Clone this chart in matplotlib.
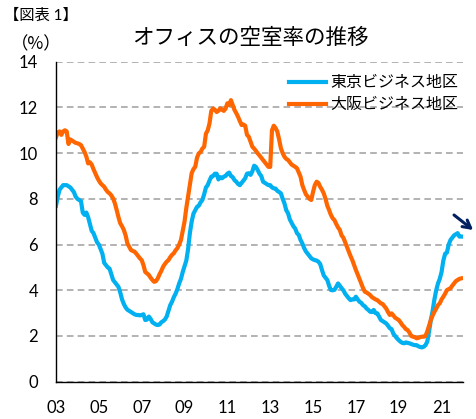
import numpy as np
import matplotlib
matplotlib.use("Agg")
import matplotlib.pyplot as plt

plt.rcParams['font.family'] = ['Lato', 'Noto Sans CJK JP', 'DejaVu Sans']

# monthly vacancy rate (%), Jan 2003 - Dec 2021
tokyo = [
    7.7, 8.1, 8.4, 8.5, 8.6, 8.6, 8.6, 8.55, 8.5, 8.4, 8.3, 8.1,         # 03
    8.0, 7.95, 7.9, 7.4, 7.3, 7.4, 7.2, 6.9, 6.6, 6.5, 6.3, 6.1,         # 04
    6.0, 5.8, 5.6, 5.2, 5.1, 5.0, 4.95, 4.7, 4.45, 4.35, 4.25, 4.15,     # 05
    3.9, 3.6, 3.4, 3.25, 3.15, 3.1, 3.05, 3.0, 2.95, 2.92, 2.92, 2.9,    # 06
    2.92, 2.95, 2.7, 2.72, 2.85, 2.75, 2.6, 2.55, 2.5, 2.48, 2.5, 2.6,   # 07
    2.65, 2.72, 2.85, 3.1, 3.35, 3.5, 3.7, 3.85, 4.05, 4.3, 4.5, 4.8,    # 08
    5.05, 5.3, 5.8, 6.5, 7.0, 7.35, 7.5, 7.65, 7.7, 7.85, 7.95, 8.2,     # 09
    8.5, 8.6, 8.8, 8.97, 9.0, 9.1, 9.1, 8.85, 8.95, 8.9, 8.97, 9.0,      # 10
    9.1, 9.15, 9.0, 8.95, 8.82, 8.75, 8.65, 8.6, 8.7, 8.8, 8.9, 9.1,     # 11
    9.12, 9.05, 9.2, 9.45, 9.4, 9.26, 9.1, 9.0, 8.75, 8.7, 8.65, 8.6,    # 12
    8.6, 8.5, 8.46, 8.45, 8.35, 8.3, 8.24, 8.0, 7.8, 7.5, 7.37, 7.1,     # 13
    6.95, 6.8, 6.7, 6.5, 6.42, 6.2, 6.05, 5.85, 5.7, 5.6, 5.5, 5.4,      # 14
    5.35, 5.32, 5.3, 5.25, 5.15, 4.89, 4.65, 4.55, 4.45, 4.2, 4.01, 4.0, # 15
    4.02, 4.15, 4.3, 4.2, 4.09, 4.0, 3.85, 3.75, 3.65, 3.57, 3.6, 3.6,   # 16
    3.72, 3.6, 3.5, 3.45, 3.35, 3.3, 3.2, 3.14, 3.06, 3.05, 3.14, 3.0,   # 17
    2.99, 2.85, 2.7, 2.65, 2.6, 2.55, 2.45, 2.34, 2.3, 2.1, 2.0, 1.9,    # 18
    1.82, 1.75, 1.7, 1.68, 1.72, 1.7, 1.68, 1.65, 1.62, 1.6, 1.6, 1.55,  # 19
    1.52, 1.5, 1.53, 1.6, 1.75, 2.2, 2.7, 3.1, 3.6, 4.0, 4.3, 4.5,       # 20
    4.8, 5.3, 5.6, 5.65, 6.0, 6.2, 6.3, 6.4, 6.45, 6.5, 6.35, 6.35,      # 21
]
osaka = [
    10.7, 10.9, 10.95, 10.8, 10.95, 11.0, 10.95, 10.4, 10.6, 10.55, 10.5, 10.45,  # 03
    10.43, 10.4, 10.35, 10.2, 10.05, 9.85, 9.55, 9.6, 9.5, 9.3, 9.12, 8.95,       # 04
    8.8, 8.68, 8.6, 8.53, 8.4, 8.3, 8.24, 8.15, 8.02, 7.8, 7.51, 7.2,             # 05
    6.93, 6.8, 6.64, 6.4, 6.05, 5.9, 5.76, 5.72, 5.69, 5.6, 5.5, 5.4,             # 06
    5.32, 5.1, 4.8, 4.74, 4.67, 4.55, 4.45, 4.37, 4.4, 4.52, 4.7, 4.85,           # 07
    5.03, 5.15, 5.25, 5.32, 5.45, 5.55, 5.62, 5.75, 5.84, 6.0, 6.2, 6.6,          # 08
    7.0, 7.6, 8.1, 8.6, 9.12, 9.3, 9.4, 9.8, 9.99, 10.05, 10.2, 10.28,            # 09
    10.85, 11.0, 11.3, 11.85, 11.95, 11.9, 11.8, 11.85, 11.96, 11.9, 11.85, 11.95, # 10
    12.18, 12.1, 12.32, 12.1, 11.89, 11.75, 11.59, 11.4, 11.23, 11.25, 11.2, 10.8, # 11
    10.72, 10.5, 10.28, 10.2, 10.1, 9.99, 9.9, 9.8, 9.7, 9.6, 9.5, 9.4,           # 12
    9.4, 11.0, 11.2, 11.1, 10.94, 10.6, 10.21, 10.0, 9.84, 9.75, 9.7, 9.6,        # 13
    9.5, 9.45, 9.4, 9.34, 9.15, 8.97, 8.6, 8.39, 8.2, 8.1, 8.0, 7.95,             # 14
    8.3, 8.6, 8.75, 8.7, 8.53, 8.4, 8.24, 8.0, 7.7, 7.51, 7.3, 7.15,              # 15
    7.07, 6.9, 6.75, 6.64, 6.4, 6.3, 6.1, 5.9, 5.7, 5.5, 5.32, 5.1,               # 16
    4.89, 4.7, 4.5, 4.3, 4.1, 3.94, 3.9, 3.85, 3.79, 3.7, 3.65, 3.6,              # 17
    3.57, 3.5, 3.43, 3.4, 3.3, 3.2, 3.05, 2.92, 2.99, 2.9, 2.8, 2.75,             # 18
    2.7, 2.6, 2.48, 2.4, 2.3, 2.26, 2.15, 2.0, 1.97, 1.95, 1.9, 1.92,             # 19
    1.95, 1.97, 1.97, 2.0, 2.2, 2.45, 2.7, 2.9, 3.06, 3.2, 3.35, 3.43,            # 20
    3.6, 3.72, 3.85, 4.01, 4.05, 4.09, 4.2, 4.3, 4.4, 4.45, 4.5, 4.52,            # 21
]
start_year = 2003
xtick_years = list(range(2003, 2022, 2))
xtick_labels = ["%02d" % (y % 100) for y in xtick_years]
yticks = list(range(0, 15, 2))

labels = ["東京ビジネス地区", "大阪ビジネス地区"]
colors = ["#00B0F0", "#FF6600"]

t = start_year + np.arange(len(tokyo)) / 12.0

fig = plt.figure(figsize=(4.77, 4.19), dpi=100)
ax = fig.add_axes([0.1174, 0.089, 0.8532, 0.7637])

for ys, lab, c in zip([tokyo, osaka], labels, colors):
    ax.plot(t, ys, color=c, lw=3.0, label=lab, solid_joinstyle='round')

ax.set_xlim(2003, 2022)
ax.set_ylim(0, 14)
ax.set_yticks(yticks)
ax.set_xticks(xtick_years)
ax.set_xticklabels(xtick_labels)
ax.tick_params(length=0, labelsize=12, colors="#000000")
ax.tick_params(axis='y', pad=13)
ax.tick_params(axis='x', pad=13)
ax.yaxis.grid(True, color="#A6A6A6", ls=(0, (4, 2.5)), lw=1.2)
ax.set_axisbelow(True)
for s in ["top", "right"]:
    ax.spines[s].set_visible(False)
for s in ["left", "bottom"]:
    ax.spines[s].set_linewidth(1.0)

leg = ax.legend(loc="upper right", bbox_to_anchor=(1.025, 1.0), frameon=False,
                fontsize=11.5, handlelength=2.3, handletextpad=0.3,
                labelspacing=0.5)

fig.text(0.278, 0.909, "オフィスの空室率の推移", fontsize=15.5, va="center", ha="left")
fig.text(0.008, 0.962, "【図表 1】", fontsize=11, va="center", ha="left")
fig.text(0.022, 0.895, "（%）", fontsize=12.5, va="center", ha="left",
         family=["Noto Sans CJK JP", "DejaVu Sans"])

# trend arrow at the end of the Tokyo line
ax.annotate("", xy=(1.025, 0.474), xytext=(0.978, 0.521), xycoords="axes fraction",
            annotation_clip=False,
            arrowprops=dict(arrowstyle="->,head_length=0.55,head_width=0.3",
                            color="#002060", lw=2.2, shrinkA=0, shrinkB=0))

fig.savefig("out.png", dpi=100)
